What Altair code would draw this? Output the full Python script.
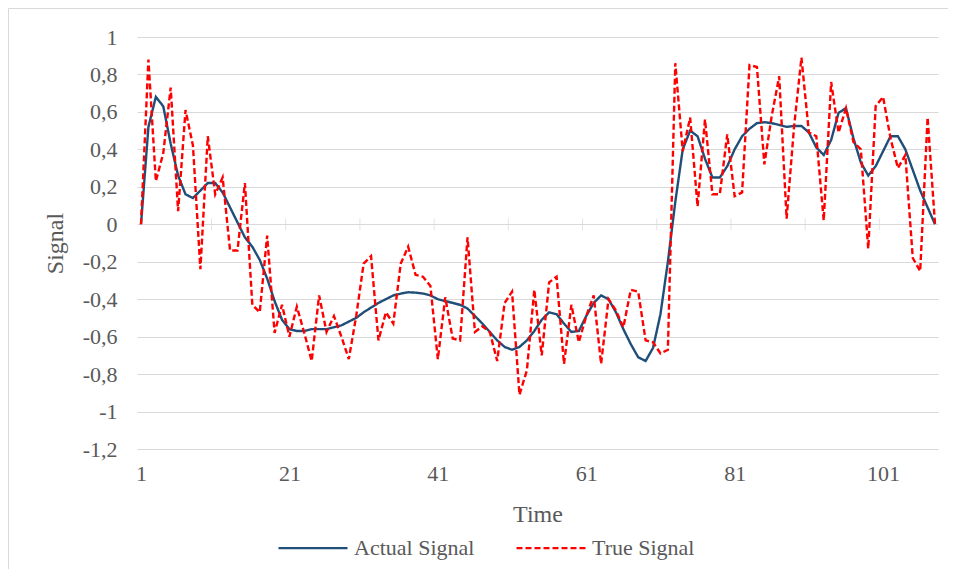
import altair as alt
import pandas as pd

# ---- data ----
time = list(range(1, 109))

actual_signal = [
    0.00, 0.52, 0.68, 0.63, 0.43, 0.26, 0.16, 0.14, 0.18, 0.22,
    0.22, 0.17, 0.09, 0.01, -0.07, -0.12, -0.19, -0.29, -0.41, -0.51,
    -0.56, -0.57, -0.57, -0.56, -0.56, -0.56, -0.55, -0.54, -0.52, -0.50,
    -0.47, -0.445, -0.42, -0.40, -0.38, -0.37, -0.363, -0.365, -0.37, -0.38,
    -0.40, -0.41, -0.42, -0.43, -0.45, -0.49, -0.53, -0.575, -0.62, -0.655,
    -0.67, -0.655, -0.62, -0.57, -0.51, -0.47, -0.48, -0.53, -0.575, -0.57,
    -0.49, -0.42, -0.38, -0.40, -0.47, -0.56, -0.64, -0.71, -0.73, -0.66,
    -0.48, -0.20, 0.12, 0.40, 0.50, 0.47, 0.35, 0.25, 0.25, 0.31,
    0.40, 0.47, 0.51, 0.54, 0.545, 0.54, 0.53, 0.52, 0.525, 0.525,
    0.49, 0.41, 0.37, 0.45, 0.595, 0.62, 0.46, 0.33, 0.26, 0.31,
    0.39, 0.47, 0.47, 0.40, 0.29, 0.18, 0.09, 0.00,
]

true_signal = [
    0.00, 0.88, 0.23, 0.38, 0.73, 0.07, 0.61, 0.42, -0.24, 0.47,
    0.16, 0.25, -0.14, -0.14, 0.22, -0.43, -0.47, -0.06, -0.58, -0.43,
    -0.60, -0.44, -0.58, -0.73, -0.38, -0.575, -0.49, -0.60, -0.72, -0.49,
    -0.21, -0.17, -0.62, -0.47, -0.53, -0.21, -0.12, -0.27, -0.28, -0.33,
    -0.72, -0.39, -0.61, -0.62, -0.07, -0.575, -0.545, -0.575, -0.73, -0.42,
    -0.36, -0.91, -0.78, -0.35, -0.70, -0.31, -0.28, -0.745, -0.43, -0.63,
    -0.49, -0.38, -0.745, -0.40, -0.46, -0.55, -0.35, -0.36, -0.62, -0.63,
    -0.69, -0.67, 0.86, 0.39, 0.57, 0.095, 0.56, 0.16, 0.16, 0.48,
    0.15, 0.17, 0.85, 0.84, 0.32, 0.58, 0.79, 0.03, 0.52, 0.89,
    0.49, 0.47, 0.02, 0.76, 0.49, 0.62, 0.44, 0.40, -0.13, 0.63,
    0.68, 0.46, 0.30, 0.37, -0.18, -0.25, 0.57, 0.00,
]

series_names = ["Actual Signal", "True Signal"]
series_colors = ["#1f4e79", "#ff0000"]
x_tick_labels = [1, 21, 41, 61, 81, 101]
y_tick_labels = [-1.2, -1.0, -0.8, -0.6, -0.4, -0.2, 0.0, 0.2, 0.4, 0.6, 0.8, 1.0]
zero_axis_ticks = [10.5, 20.5, 30.5, 40.5, 50.5, 60.5, 70.5, 80.5, 90.5, 100.5]

# ---- tables ----
df = pd.concat([
    pd.DataFrame({"Time": time, "Signal": actual_signal, "Series": series_names[0]}),
    pd.DataFrame({"Time": time, "Signal": true_signal, "Series": series_names[1]}),
], ignore_index=True)
ticks_df = pd.DataFrame({"Time": zero_axis_ticks, "Signal": [0.0] * len(zero_axis_ticks)})

FONT = "Liberation Serif"
GREY = "#595959"
GRID = "#d9d9d9"

x_scale = alt.Scale(domain=[0.46, 108.4], nice=False, zero=False)
y_scale = alt.Scale(domain=[-1.2, 1.0], nice=False, zero=False)

x_axis = alt.Axis(
    values=x_tick_labels, format="d", grid=False, domain=False, ticks=False,
    labelOverlap=False,
    labelFont=FONT, labelFontSize=22, labelColor=GREY, labelPadding=14,
    title="Time", titleFont=FONT, titleFontSize=24, titleColor=GREY,
    titleFontWeight="normal", titlePadding=18)

y_axis = alt.Axis(
    values=y_tick_labels, grid=True, gridColor=GRID, gridWidth=1.2,
    domain=False, ticks=False, labelOverlap=False, labelFlush=False,
    labelExpr="(datum.value < 0 ? '-' : '') + replace(format(abs(datum.value), '.1~f'), '.', ',')",
    labelFont=FONT, labelFontSize=22, labelColor=GREY, labelPadding=20,
    title="Signal", titleFont=FONT, titleFontSize=24, titleColor=GREY,
    titleFontWeight="normal", titlePadding=15)

legend = alt.Legend(
    title=None, orient="none", direction="horizontal",
    legendX=140, legendY=475,
    symbolType="stroke", symbolSize=4761, symbolStrokeWidth=2.25,
    labelFont=FONT, labelFontSize=22, labelColor=GREY, labelOffset=5,
    columnPadding=37, padding=0,
)

lines = alt.Chart(df).mark_line(strokeWidth=2.4).encode(
    x=alt.X("Time:Q", scale=x_scale, axis=x_axis, title="Time"),
    y=alt.Y("Signal:Q", scale=y_scale, axis=y_axis, title="Signal"),
    color=alt.Color("Series:N", scale=alt.Scale(domain=series_names, range=series_colors), legend=legend),
    strokeDash=alt.StrokeDash("Series:N", scale=alt.Scale(domain=series_names, range=[[1, 0], [6, 3]]), legend=legend),
    order=alt.Order("Time:Q"),
)

zero_ticks = alt.Chart(ticks_df).mark_tick(orient="vertical", size=12, thickness=1, color=GRID).encode(
    x=alt.X("Time:Q", scale=x_scale, axis=x_axis, title="Time"),
    y=alt.Y("Signal:Q", scale=y_scale, axis=y_axis, title="Signal"),
)

border = alt.Chart(pd.DataFrame({"a": [0]})).mark_rect(fill=None, stroke=GRID, strokeWidth=1).encode(
    x=alt.value(-128.5), x2=alt.value(900), y=alt.value(-28.5), y2=alt.value(700)
)

chart = alt.layer(border, zero_ticks, lines).properties(
    width=801, height=412,
    padding={"left": 129, "top": 29, "right": 10, "bottom": 120},
    autosize="none",
).configure_view(stroke=None)

chart.save("out.html", embed_options={"renderer": "svg", "actions": False})
